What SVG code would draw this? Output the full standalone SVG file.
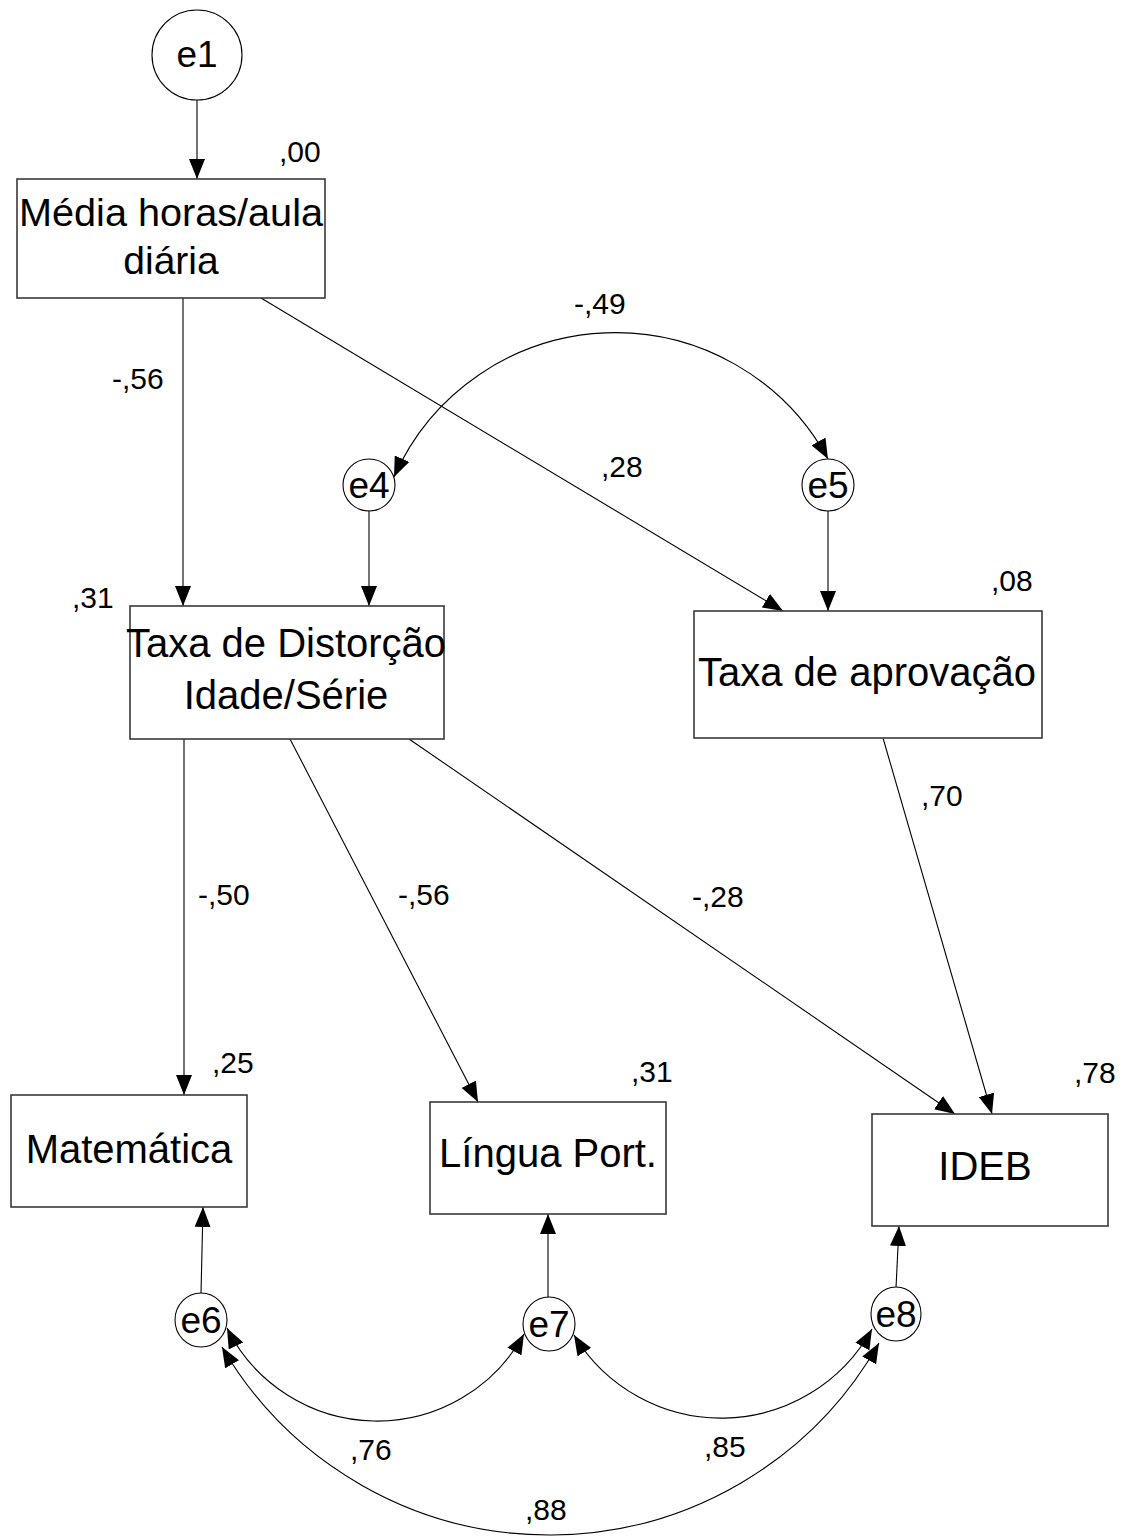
<svg xmlns="http://www.w3.org/2000/svg" width="1123" height="1539" viewBox="0 0 1123 1539">
  <style>
    .box { fill: #ffffff; stroke: #3a3a3a; stroke-width: 1.6; }
    .err { fill: #ffffff; stroke: #000000; stroke-width: 1.1; }
    .lbl { font-family: "Liberation Sans", Arial, sans-serif; font-size: 40px; fill: #000000; text-anchor: middle; }
    .elbl { font-family: "Liberation Sans", Arial, sans-serif; font-size: 37px; fill: #000000; text-anchor: middle; }
    .coef { font-family: "Liberation Sans", Arial, sans-serif; font-size: 30px; fill: #000000; }
    .path { fill: none; stroke: #000000; stroke-width: 1.1; marker-end: url(#arrow); }
    .cov { fill: none; stroke: #000000; stroke-width: 1.1; marker-start: url(#arrow); marker-end: url(#arrow); }
  </style>
  <defs>
    <marker id="arrow" markerUnits="userSpaceOnUse" markerWidth="20" markerHeight="16" refX="20" refY="8" orient="auto-start-reverse" viewBox="0 0 20 16">
      <path d="M0,0 L20,8 L0,16 Z" fill="#000000"/>
    </marker>
  </defs>
  <rect x="0" y="0" width="1123" height="1539" fill="#ffffff"/>

  <!-- regression paths and covariances -->
  <g id="connectors">
    <path class="path" d="M197,100 L197,179"/>
    <path class="path" d="M183,298 L183,606"/>
    <path class="path" d="M261,298 L783,611"/>
    <path class="path" d="M369,511 L369,606"/>
    <path class="path" d="M828,511 L828,611"/>
    <path class="path" d="M184,739 L184,1095"/>
    <path class="path" d="M290,739 L478,1102"/>
    <path class="path" d="M409,739 L955,1114"/>
    <path class="path" d="M883,738 L992,1114"/>
    <path class="path" d="M201,1294 L203,1207"/>
    <path class="path" d="M548,1298 L548,1214"/>
    <path class="path" d="M896,1288 L899,1226"/>
    <path class="cov" d="M394,477 A242,242 0 0,1 828,459"/>
    <path class="cov" d="M227,1328 A167.5,167.5 0 0,0 524,1334"/>
    <path class="cov" d="M574,1335 A172,172 0 0,0 872,1329"/>
    <path class="cov" d="M222,1347 A379,379 0 0,0 879,1343"/>
  </g>

  <!-- error terms -->
  <g id="e1"><circle class="err" cx="197" cy="55" r="45"/><text class="elbl" x="197" y="67">e1</text></g>
  <g id="e4"><circle class="err" cx="369" cy="485" r="26"/><text class="elbl" x="369" y="498">e4</text></g>
  <g id="e5"><circle class="err" cx="828" cy="485" r="26"/><text class="elbl" x="828" y="498">e5</text></g>
  <g id="e6"><ellipse class="err" cx="201" cy="1320" rx="26" ry="27"/><text class="elbl" x="201" y="1333">e6</text></g>
  <g id="e7"><ellipse class="err" cx="549" cy="1324" rx="26" ry="27"/><text class="elbl" x="549" y="1337">e7</text></g>
  <g id="e8"><ellipse class="err" cx="896" cy="1314" rx="25" ry="27"/><text class="elbl" x="896" y="1327">e8</text></g>

  <!-- observed variables -->
  <g id="media-horas">
    <rect class="box" x="17" y="179" width="308" height="119"/>
    <text class="lbl" x="171" y="226" style="font-size:38px" textLength="304" lengthAdjust="spacingAndGlyphs">Média horas/aula</text>
    <text class="lbl" x="171" y="274" style="font-size:39px">diária</text>
  </g>
  <g id="taxa-distorcao">
    <rect class="box" x="130" y="606" width="314" height="133"/>
    <text class="lbl" x="286" y="657">Taxa de Distorção</text>
    <text class="lbl" x="286" y="709">Idade/Série</text>
  </g>
  <g id="taxa-aprovacao">
    <rect class="box" x="694" y="611" width="348" height="127"/>
    <text class="lbl" x="867" y="686">Taxa de aprovação</text>
  </g>
  <g id="matematica">
    <rect class="box" x="11" y="1095" width="236" height="112"/>
    <text class="lbl" x="129" y="1163">Matemática</text>
  </g>
  <g id="lingua-port">
    <rect class="box" x="430" y="1102" width="236" height="112"/>
    <text class="lbl" x="548" y="1167">Língua Port.</text>
  </g>
  <g id="ideb">
    <rect class="box" x="872" y="1114" width="236" height="112"/>
    <text class="lbl" x="985" y="1180">IDEB</text>
  </g>

  <!-- estimates -->
  <g id="estimates">
    <text class="coef" x="279" y="162">,00</text>
    <text class="coef" x="112" y="389">-,56</text>
    <text class="coef" x="574" y="314">-,49</text>
    <text class="coef" x="601" y="477">,28</text>
    <text class="coef" x="72" y="608">,31</text>
    <text class="coef" x="991" y="591">,08</text>
    <text class="coef" x="921" y="806">,70</text>
    <text class="coef" x="198" y="905">-,50</text>
    <text class="coef" x="398" y="905">-,56</text>
    <text class="coef" x="692" y="907">-,28</text>
    <text class="coef" x="212" y="1073">,25</text>
    <text class="coef" x="631" y="1082">,31</text>
    <text class="coef" x="1074" y="1083">,78</text>
    <text class="coef" x="350" y="1460">,76</text>
    <text class="coef" x="704" y="1457">,85</text>
    <text class="coef" x="525" y="1520">,88</text>
  </g>
</svg>
